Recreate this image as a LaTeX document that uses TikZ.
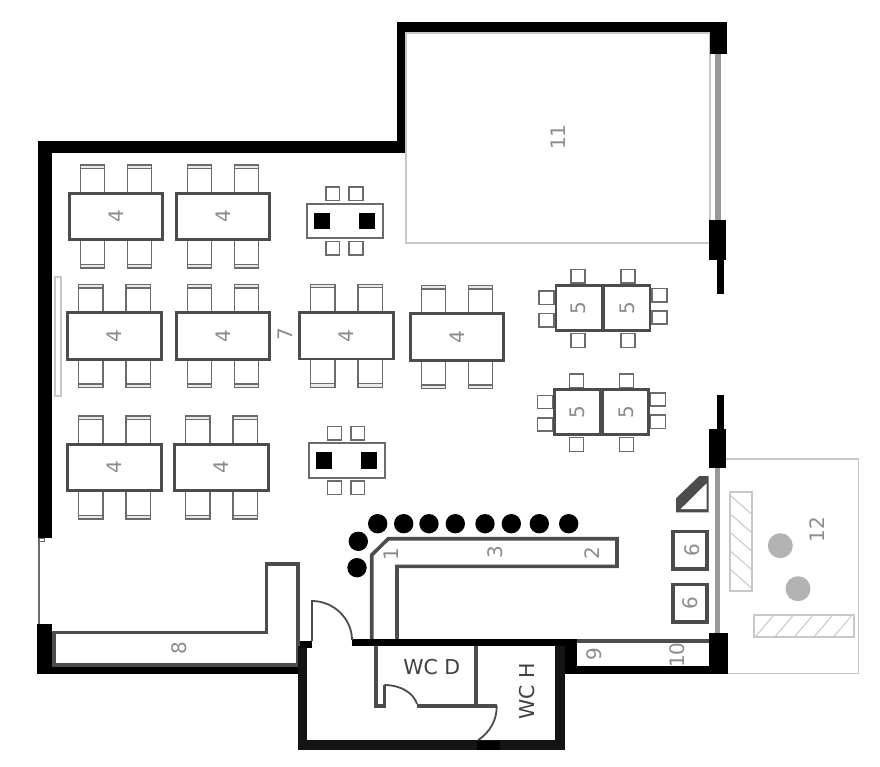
\documentclass[tikz,border=0pt]{standalone}
\usepackage{fontspec}
\setmainfont{DejaVu Sans}
\usepackage{xcolor}
\definecolor{wallblack}{gray}{0}
\definecolor{walldark}{gray}{0.08}
\definecolor{fitout}{gray}{0.3}
\definecolor{seatgray}{gray}{0.42}
\definecolor{labelgray}{gray}{0.55}
\definecolor{palegray}{gray}{0.78}
\definecolor{glassgray}{gray}{0.6}

\tikzset{
  numlabel/.style={text=labelgray,rotate=90,inner sep=0pt,font=\fontsize{20}{20}\selectfont},
  wclabel/.style={text=black!75,inner sep=0pt,font=\fontsize{20.5}{20.5}\selectfont},
  tableline/.style={draw=fitout,fill=white,line width=2.8pt},
  seatline/.style={draw=seatgray,fill=white,line width=1.3pt},
  stoolline/.style={draw=seatgray,fill=white,line width=1.5pt},
  paleline/.style={draw=palegray,line width=2pt},
  fitline/.style={draw=fitout,line width=3.6pt},
  doorline/.style={draw=fitout,line width=1.8pt},
  hatchline/.style={draw=palegray,line width=1pt}
}

% table for four: centre x, centre y, name
\newcommand{\tablefour}[3]{
  \foreach \dx in {-23.6,23.6}{
    \foreach \s in {-1,1}{
      \draw[seatline] ({#1+\dx-12.2},{#2+\s*23}) rectangle ({#1+\dx+12.2},{#2+\s*51.5});
      \draw[seatline,fill=palegray!40] ({#1+\dx-12.2},{#2+\s*48}) rectangle ({#1+\dx+12.2},{#2+\s*51.5});
    }
  }
  \draw[tableline] ({#1-46.8},{#2-23.2}) rectangle ({#1+46.8},{#2+23.2});
  \node[numlabel] (#3) at (#1,#2) {4};
}

% double table for five: centre x, centre y, name
\newcommand{\tablefive}[3]{
  \foreach \dx in {-25,25}{
    \draw[stoolline] ({#1+\dx-6.8},{#2-38.2}) rectangle ({#1+\dx+6.8},{#2-24.6});
    \draw[stoolline] ({#1+\dx-6.8},{#2+25.6}) rectangle ({#1+\dx+6.8},{#2+39.6});
  }
  \foreach \dy in {-10,12.6}{
    \draw[stoolline] ({#1-64},{#2+\dy-6.6}) rectangle ({#1-49},{#2+\dy+6.6});
  }
  \foreach \dy in {-12.5,9.7}{
    \draw[stoolline] ({#1+49},{#2+\dy-6.6}) rectangle ({#1+64},{#2+\dy+6.6});
  }
  \draw[tableline] ({#1-47},{#2-22.6}) rectangle ({#1+47},{#2+22.6});
  \draw[fitout,line width=4.5pt] (#1,{#2-22.6}) -- (#1,{#2+22.6});
  \node[numlabel] (#3a) at ({#1-24.5},#2) {5};
  \node[numlabel] (#3b) at ({#1+24.5},#2) {5};
}

% low table with two black blocks: centre x, centre y
\newcommand{\lowtable}[2]{
  \foreach \dx in {-12.2,11}{
    \draw[stoolline] ({#1+\dx-6.8},{#2-34}) rectangle ({#1+\dx+6.8},{#2-20.3});
    \draw[stoolline] ({#1+\dx-6.8},{#2+20.3}) rectangle ({#1+\dx+6.8},{#2+34});
  }
  \draw[draw=seatgray,fill=white,line width=2pt] ({#1-37.8},{#2-17.2}) rectangle ({#1+37.8},{#2+17.2});
  \foreach \dx in {-23.2,22.3}{
    \fill[wallblack] ({#1+\dx-8},{#2-8.2}) rectangle ({#1+\dx+8},{#2+8.2});
  }
}

\begin{document}
\begin{tikzpicture}[x=1pt,y=-1pt]
\useasboundingbox (0,0) rectangle (880,767);
\fill[white] (0,0) rectangle (880,767);

% terrace
\draw[draw=palegray,line width=1.5pt] (726,459) -- (858.3,459) -- (858.3,673.7) -- (726,673.7);
\draw[paleline] (730.3,491.7) rectangle (752.3,591);
\foreach \i in {0,...,4}{
  \draw[hatchline] (731,{496+18.5*\i}) -- (751.5,{514+18.5*\i});
}
\draw[paleline] (754,615) rectangle (854,636.7);
\foreach \i in {0,...,4}{
  \draw[hatchline] ({756+19.6*\i},636) -- ({773+19.6*\i},616);
}
\fill[palegray!90!black] (780.3,545.7) circle (12.5);
\fill[palegray!90!black] (798,588.7) circle (12.5);
\node[numlabel] (terrace) at (816.7,529.3) {12};

% room behind glass
\draw[paleline] (406,33.5) -- (406,243.5) -- (709.8,243.5) -- (709.8,33.5) -- cycle;
\node[numlabel] (stage) at (558,137) {11};
\draw[paleline] (54.5,277) rectangle (60.7,396);

% tables
\tablefour{116}{216.5}{tabA}
\tablefour{223}{216.5}{tabB}
\tablefour{114.5}{336}{tabC}
\tablefour{223}{336}{tabD}
\tablefour{346.5}{335.7}{tabE}
\tablefour{457}{337}{tabF}
\tablefour{114.5}{467.5}{tabG}
\tablefour{221.5}{467.5}{tabH}
\tablefive{603}{307.7}{tabJ}
\tablefive{601.5}{412}{tabK}
\lowtable{345}{221}
\lowtable{346.7}{460.5}
\node[numlabel] (aisle) at (285,334) {7};

% bar
\draw[fitline,line join=miter] (371.7,640) -- (371.7,555) -- (388.3,538.7) -- (617,538.7) -- (617,566.3) -- (397,566.3) -- (397,640);
\node[numlabel] (barA) at (391,554.3) {1};
\node[numlabel] (barB) at (495.7,551.7) {3};
\node[numlabel] (barC) at (591.7,552.7) {2};
\foreach \x in {377.7,403.7,429,455.3,485,511.3,539.3,568.7}{
  \fill[wallblack] (\x,523.7) circle (9.7);
}
\fill[wallblack] (358.3,541.3) circle (9.7);
\fill[wallblack] (357,567.7) circle (9.7);

% right side units
\fill[fitout] (676,498.3) -- (699.3,476) -- (708.7,476) -- (708.7,512.3) -- (676,512.3) -- cycle;
\fill[white] (680.7,509) -- (706.7,483.3) -- (706.7,509) -- cycle;
\draw[fitline] (673,531.3) rectangle (706.7,569);
\draw[fitline] (673,584.3) rectangle (706.7,622);
\node[numlabel] (unitA) at (692,550) {6};
\node[numlabel] (unitB) at (690.7,602.7) {6};

% store along the south wall
\draw[fitline] (54,632.3) -- (266.3,632.3) -- (266.3,563.7) -- (298,563.7) -- (298,665) -- (54,665) -- cycle;
\node[numlabel] (store) at (179.3,648.3) {8};
\draw[fitline] (576,641) -- (710,641);
\node[numlabel] (binA) at (594,654) {9};
\node[numlabel] (binB) at (677.3,655) {10};

% glazing
\fill[glassgray] (715,53) rectangle (720.7,220);
\fill[glassgray] (715.3,468) rectangle (720.3,634);
\draw[seatgray,line width=1.8pt] (38.8,538) -- (38.8,625);
\draw[seatgray,line width=1pt] (39,538) rectangle (44.5,541.5);

% outer walls
\fill[wallblack] (37.5,141) rectangle (51.5,537.5);
\fill[wallblack] (37.5,141) rectangle (405,153.5);
\fill[wallblack] (396.5,22) rectangle (405,153.5);
\fill[wallblack] (396.5,22) rectangle (726.5,32.5);
\fill[wallblack] (710,22) rectangle (726.5,54);
\fill[wallblack] (709.3,220) rectangle (726.3,260);
\fill[wallblack] (716.7,260) rectangle (723.7,294);
\fill[wallblack] (716.7,395.3) rectangle (723.7,430);
\fill[wallblack] (709,429) rectangle (726.3,468.3);
\fill[wallblack] (709,633.3) rectangle (728,674);
\fill[wallblack] (565,666) rectangle (728,674);
\fill[wallblack] (37.3,624.3) rectangle (52.3,674);
\fill[wallblack] (37.3,666.7) rectangle (307,674);

% toilets
\fill[wallblack] (351.7,639.3) rectangle (576.7,646);
\fill[wallblack] (565,639.3) rectangle (576.7,674);
\fill[walldark] (555,646) rectangle (565,750);
\fill[walldark] (298.3,646) rectangle (307.3,750);
\fill[walldark] (298.3,740) rectangle (565,750);
\fill[wallblack] (476.7,741) rectangle (500,750);
\fill[wallblack] (300,641) rectangle (312,647.7);
\draw[fitline] (375.7,646) -- (375.7,705.7) -- (384.3,705.7) -- (384.3,685);
\draw[fitline] (417,705.7) -- (496.7,705.7);
\draw[fitline] (476,646) -- (476,705.7);
\draw[doorline] (312,641) -- (312,601) .. controls (334,601) and (352,619) .. (352,640);
\draw[doorline] (384.3,685) .. controls (402,685) and (414,694) .. (417,704);
\draw[doorline] (496.7,705.7) .. controls (497,720) and (490,732) .. (478.3,740);
\node[wclabel] (wcd) at (431.7,666.7) {WC D};
\node[wclabel,rotate=90] (wch) at (526.7,691.7) {WC H};
\end{tikzpicture}
\end{document}
